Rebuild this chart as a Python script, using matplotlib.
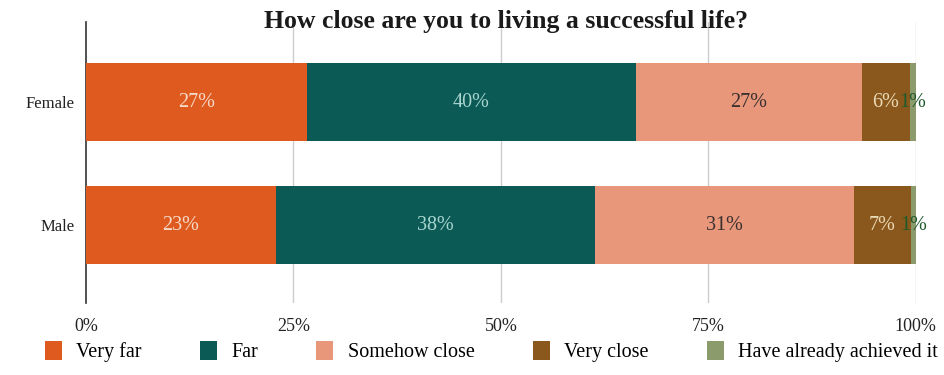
import matplotlib
matplotlib.use("Agg")
import matplotlib.pyplot as plt
from matplotlib.patches import Patch

groups = ["Female", "Male"]
categories = ["Very far", "Far", "Somehow close", "Very close", "Have already achieved it"]
female = [26.6, 39.7, 27.2, 5.8, 0.7]
male = [22.9, 38.4, 31.3, 6.8, 0.6]
colors = ["#DF5A1F", "#0B5A55", "#E8977A", "#8A581C", "#8C9B6C"]
label_colors = ["#F6D9C8", "#A9D4CF", "#3A3030", "#EAD9B5", "#1F5A2C"]
xticks = [0, 25, 50, 75, 100]
xtick_labels = ["0%", "25%", "50%", "75%", "100%"]

serif = ["Liberation Serif", "DejaVu Serif"]
plt.rcParams["font.family"] = serif

fig = plt.figure(figsize=(9.45, 3.75), dpi=100)
ax = fig.add_axes([0.091, 0.192, 0.878, 0.749])

series = {"Female": female, "Male": male}
ypos = {"Female": 1, "Male": 0}
for g in groups:
    left = 0.0
    for i, v in enumerate(series[g]):
        ax.barh(ypos[g], v, left=left, height=0.63, color=colors[i], zorder=3)
        ax.text(left + v / 2, ypos[g], f"{round(v):.0f}%", ha="center", va="center",
                fontsize=14.5, color=label_colors[i], zorder=4)
        left += v

ax.set_xlim(0, 100)
ax.set_ylim(-0.634, 1.65)
ax.set_yticks([ypos[g] for g in groups])
ax.set_yticklabels(groups, fontsize=12, color="#222222")
ax.set_xticks(xticks)
ax.set_xticklabels(xtick_labels, fontsize=13, color="#222222")
ax.tick_params(axis="both", length=0, pad=8)
ax.tick_params(axis="x", pad=11)
for s in ["top", "right", "bottom"]:
    ax.spines[s].set_visible(False)
ax.spines["left"].set_color("#333333")
ax.spines["left"].set_linewidth(1.2)
for xv in xticks[1:]:
    ax.axvline(xv, color="#cccccc", linewidth=1.0, zorder=1)

fig.text(0.535, 0.942, "How close are you to living a successful life?", ha="center",
         va="center", fontsize=18.5, fontweight="bold", color="#1a1a1a")

handles = [Patch(facecolor=c, edgecolor="none") for c in colors]
fig.legend(handles, categories, loc="center", bbox_to_anchor=(0.52, 0.062), ncol=5,
           frameon=False, fontsize=14.5, handlelength=0.85, handleheight=1.05,
           columnspacing=2.9, handletextpad=0.7)

fig.savefig("out.png", dpi=100, facecolor="white")
